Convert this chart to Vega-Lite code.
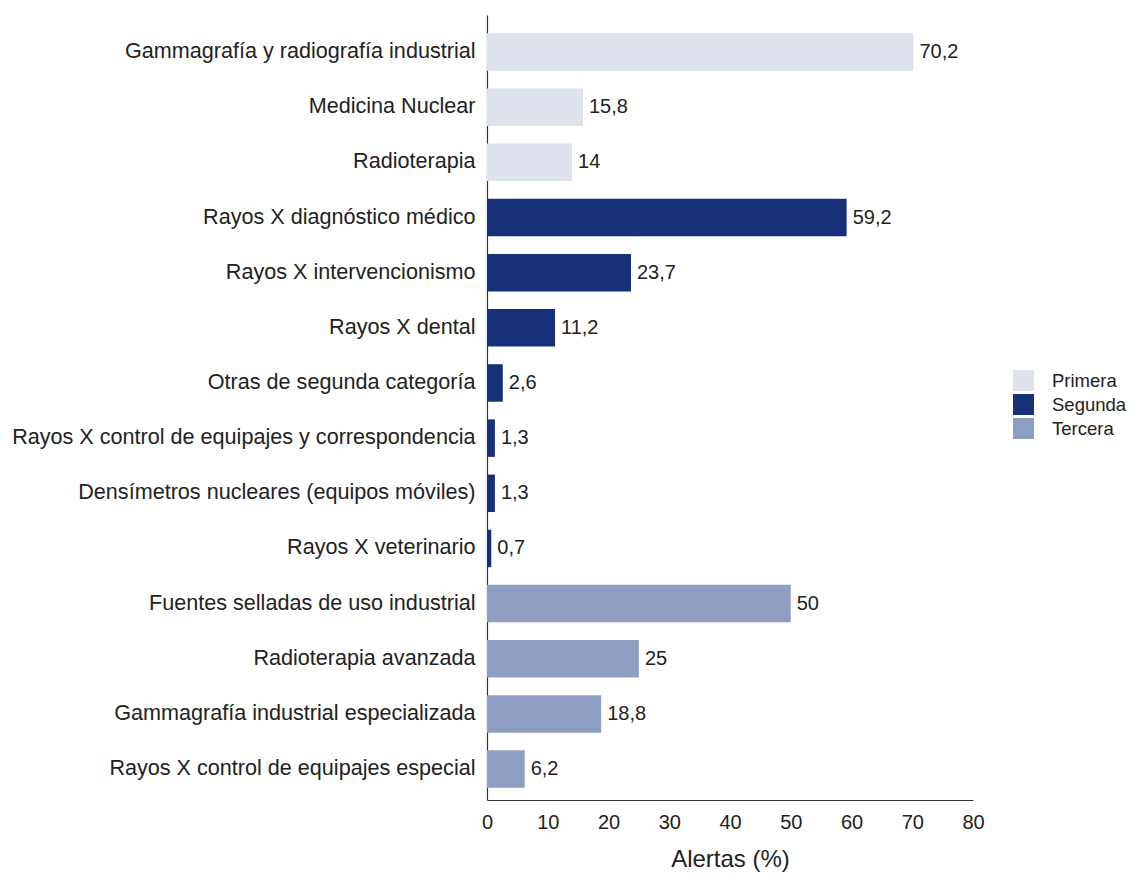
{
  "$schema": "https://vega.github.io/schema/vega-lite/v6.json",
  "width": 486,
  "height": 785,
  "autosize": {"type": "none"},
  "padding": {"left": 487, "top": 15, "right": 163, "bottom": 77},
  "background": "white",
  "config": {"view": {"stroke": null}, "font": "Liberation Sans"},
  "data": {"values": [
    {"cat": "Gammagrafía y radiografía industrial", "val": 70.2, "label": "70,2", "grupo": "Primera"},
    {"cat": "Medicina Nuclear", "val": 15.8, "label": "15,8", "grupo": "Primera"},
    {"cat": "Radioterapia", "val": 14, "label": "14", "grupo": "Primera"},
    {"cat": "Rayos X diagnóstico médico", "val": 59.2, "label": "59,2", "grupo": "Segunda"},
    {"cat": "Rayos X intervencionismo", "val": 23.7, "label": "23,7", "grupo": "Segunda"},
    {"cat": "Rayos X dental", "val": 11.2, "label": "11,2", "grupo": "Segunda"},
    {"cat": "Otras de segunda categoría", "val": 2.6, "label": "2,6", "grupo": "Segunda"},
    {"cat": "Rayos X control de equipajes y correspondencia", "val": 1.3, "label": "1,3", "grupo": "Segunda"},
    {"cat": "Densímetros nucleares (equipos móviles)", "val": 1.3, "label": "1,3", "grupo": "Segunda"},
    {"cat": "Rayos X veterinario", "val": 0.7, "label": "0,7", "grupo": "Segunda"},
    {"cat": "Fuentes selladas de uso industrial", "val": 50, "label": "50", "grupo": "Tercera"},
    {"cat": "Radioterapia avanzada", "val": 25, "label": "25", "grupo": "Tercera"},
    {"cat": "Gammagrafía industrial especializada", "val": 18.8, "label": "18,8", "grupo": "Tercera"},
    {"cat": "Rayos X control de equipajes especial", "val": 6.2, "label": "6,2", "grupo": "Tercera"}
  ]},
  "encoding": {
    "y": {
      "field": "cat", "type": "nominal", "sort": null,
      "scale": {"paddingInner": 0.32, "paddingOuter": 0.2765, "align": 0.6},
      "axis": {"title": null, "ticks": false, "labelFontSize": 21.6, "labelColor": "#222", "labelPadding": 12, "domainColor": "#333", "domainWidth": 1.2, "labelLimit": 700}
    }
  },
  "layer": [
    {
      "mark": {"type": "bar"},
      "encoding": {
        "x": {
          "field": "val", "type": "quantitative",
          "scale": {"domain": [0, 80], "nice": false},
          "axis": {"title": "Alertas (%)", "titleFontSize": 24, "titleFontWeight": "normal", "titleColor": "#222", "titlePadding": 15, "ticks": false, "grid": false, "values": [0,10,20,30,40,50,60,70,80], "labelOverlap": false, "labelFlush": false, "labelFontSize": 20, "labelColor": "#222", "labelPadding": 12, "domainColor": "#333", "domainWidth": 1.2}
        },
        "color": {
          "field": "grupo", "type": "nominal",
          "scale": {"domain": ["Primera", "Segunda", "Tercera"], "range": ["#dde2ec", "#17307a", "#8e9ec2"]},
          "legend": {"title": null, "orient": "none", "legendX": 526, "legendY": 355, "symbolType": "square", "symbolSize": 441, "labelFontSize": 18.5, "labelColor": "#222", "rowPadding": 3, "labelOffset": 18, "symbolStrokeWidth": 0}
        }
      }
    },
    {
      "mark": {"type": "text", "align": "left", "dx": 6, "fontSize": 20, "color": "#222"},
      "encoding": {
        "x": {"field": "val", "type": "quantitative"},
        "text": {"field": "label"}
      }
    }
  ]
}
